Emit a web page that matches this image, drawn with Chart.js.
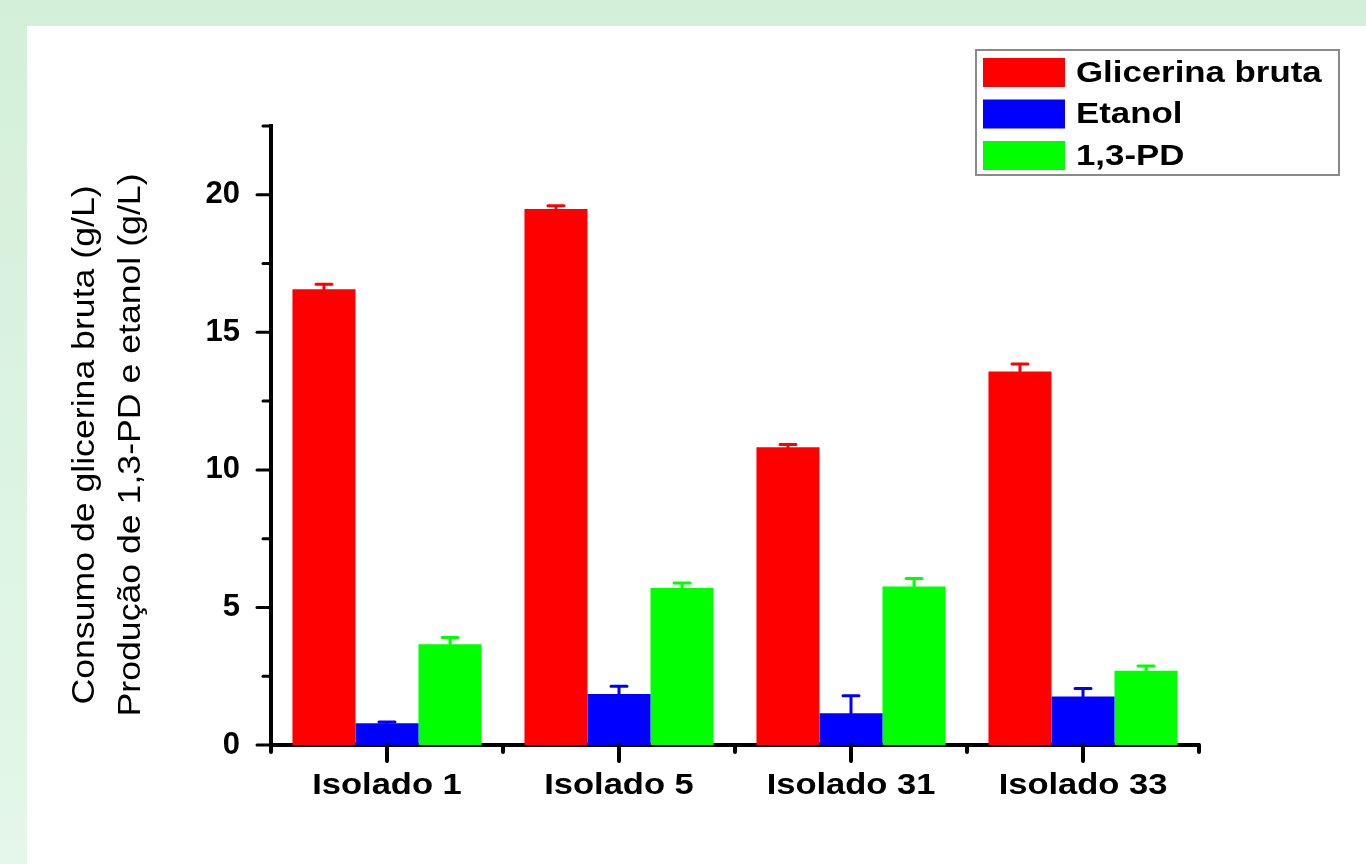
<!DOCTYPE html>
<html lang="pt">
<head>
<meta charset="utf-8">
<title>Consumo de glicerina bruta e produção de 1,3-PD e etanol</title>
<script src="https://cdn.jsdelivr.net/npm/chart.js@4.4.1/dist/chart.umd.min.js"></script>
<style>
  html, body { margin: 0; padding: 0; }
  body {
    width: 1366px; height: 864px; overflow: hidden;
    background: linear-gradient(to bottom, #d3efd9, #e4f7ea);
    position: relative;
  }
  #panel {
    position: absolute; left: 27px; top: 26px; width: 1339px; height: 838px;
    background: #ffffff;
  }
  canvas { display: block; }
</style>
</head>
<body>
<div id="panel"><canvas id="grafico" width="1339" height="838"></canvas></div>
<script>
// Isolados avaliados
const categories = ['Isolado 1', 'Isolado 5', 'Isolado 31', 'Isolado 33'];

// Consumo de glicerina bruta (g/L) e desvio
const glicerina = [16.57, 19.48, 10.82, 13.58];
const glicerinaErr = [0.18, 0.12, 0.10, 0.27];

// Produção de etanol (g/L) e desvio
const etanol = [0.79, 1.85, 1.15, 1.76];
const etanolErr = [0.05, 0.29, 0.64, 0.29];

// Produção de 1,3-propanodiol (g/L) e desvio
const pd = [3.66, 5.71, 5.76, 2.70];
const pdErr = [0.25, 0.18, 0.29, 0.17];

// Eixo Y: 0 a 22,5 com marcas a cada 2,5 e rótulos a cada 5
const yMax = 22.5;
const yStep = 2.5;
const yLabelEvery = 5;

const seriesNames = ['Glicerina bruta', 'Etanol', '1,3-PD'];
const yTitleLines = ['Consumo de glicerina bruta (g/L)', 'Produção de 1,3-PD e etanol (g/L)'];

const FONT = '"Liberation Sans", Arial, Helvetica, sans-serif';
Chart.defaults.font.family = FONT;
Chart.defaults.color = '#000';

// texto com largura ampliada (fonte expandida horizontalmente)
function wideText(ctx, text, x, y, sx, align) {
  ctx.save();
  ctx.translate(x, y);
  ctx.scale(sx, 1);
  ctx.textAlign = align;
  ctx.fillText(text, 0, 0);
  ctx.restore();
}

const isMajor = v => Math.abs(v / yLabelEvery - Math.round(v / yLabelEvery)) < 1e-6;

// Barras de erro (somente para cima), marcas dos eixos, rótulos, título do eixo Y e legenda
const extras = {
  id: 'extras',
  afterDatasetsDraw(chart) {
    const ctx = chart.ctx;
    const y = chart.scales.y;
    chart.data.datasets.forEach((ds, di) => {
      const meta = chart.getDatasetMeta(di);
      meta.data.forEach((bar, i) => {
        const top = y.getPixelForValue(ds.data[i]);
        const end = y.getPixelForValue(ds.data[i] + ds.errors[i]);
        ctx.save();
        ctx.strokeStyle = ds.backgroundColor;
        ctx.lineWidth = 3;
        ctx.lineCap = 'round';
        ctx.beginPath();
        ctx.moveTo(bar.x, top);
        ctx.lineTo(bar.x, end);
        ctx.moveTo(bar.x - 8, end);
        ctx.lineTo(bar.x + 8, end);
        ctx.stroke();
        ctx.restore();
      });
    });
  },
  afterDraw(chart) {
    const ctx = chart.ctx;
    const xs = chart.scales.x;
    const ys = chart.scales.y;
    const area = chart.chartArea;
    ctx.save();
    ctx.strokeStyle = '#000';
    ctx.lineCap = 'round';

    // marcas do eixo Y
    ctx.lineWidth = 3;
    for (let v = 0; v <= yMax + 1e-9; v += yStep) {
      const py = ys.getPixelForValue(v);
      ctx.beginPath();
      ctx.moveTo(area.left, py);
      ctx.lineTo(area.left - (isMajor(v) ? 14 : 8), py);
      ctx.stroke();
    }

    // marcas do eixo X
    ctx.lineWidth = 4;
    const by = area.bottom;
    for (let i = 0; i < categories.length; i++) {
      const px = xs.getPixelForValue(i);
      ctx.beginPath();
      ctx.moveTo(px, by);
      ctx.lineTo(px, by + 16);
      ctx.stroke();
    }
    for (let i = 0; i <= categories.length; i++) {
      const px = xs.getPixelForValue(i - 0.5);
      ctx.beginPath();
      ctx.moveTo(px, by);
      ctx.lineTo(px, by + 7);
      ctx.stroke();
    }
    ctx.restore();

    // rótulos das categorias
    ctx.save();
    ctx.fillStyle = '#000';
    ctx.font = 'bold 30px ' + FONT;
    ctx.textBaseline = 'alphabetic';
    xs.ticks.forEach((t, i) => {
      wideText(ctx, xs.getLabelForValue(t.value), xs.getPixelForTick(i), by + 49, 1.15, 'center');
    });
    ctx.restore();

    // título do eixo Y em duas linhas
    ctx.save();
    ctx.fillStyle = '#000';
    ctx.font = '31px ' + FONT;
    ctx.textBaseline = 'middle';
    const titleX = [58, 104];
    const titleY = 419;
    yTitleLines.forEach((t, k) => {
      ctx.save();
      ctx.translate(titleX[k], titleY);
      ctx.rotate(-Math.PI / 2);
      wideText(ctx, t, 0, 0, 1.15, 'center');
      ctx.restore();
    });
    ctx.restore();

    // legenda
    ctx.save();
    const box = { x: 949, y: 24, w: 363, h: 125 };
    ctx.fillStyle = '#fff';
    ctx.fillRect(box.x, box.y, box.w, box.h);
    ctx.strokeStyle = '#8a8a8a';
    ctx.lineWidth = 2;
    ctx.strokeRect(box.x, box.y, box.w, box.h);
    const rowCenters = [46.5, 88, 129.5];
    ctx.font = 'bold 29px ' + FONT;
    ctx.textBaseline = 'middle';
    chart.data.datasets.forEach((ds, k) => {
      const cy = rowCenters[k];
      ctx.fillStyle = ds.backgroundColor;
      ctx.fillRect(956, cy - 14.5, 82, 29);
      ctx.fillStyle = '#000';
      wideText(ctx, ds.label, 1049, cy + 1, 1.2, 'left');
    });
    ctx.restore();
  }
};

new Chart(document.getElementById('grafico'), {
  type: 'bar',
  data: {
    labels: categories,
    datasets: [
      { label: seriesNames[0], data: glicerina, errors: glicerinaErr, backgroundColor: '#ff0000' },
      { label: seriesNames[1], data: etanol, errors: etanolErr, backgroundColor: '#0000ff' },
      { label: seriesNames[2], data: pd, errors: pdErr, backgroundColor: '#00ff00' }
    ]
  },
  options: {
    responsive: false,
    animation: false,
    devicePixelRatio: 1,
    categoryPercentage: 0.815,
    barPercentage: 1.0,
    layout: { padding: { left: 0, top: 100, right: 167, bottom: 59 } },
    plugins: {
      legend: { display: false },
      tooltip: { enabled: false }
    },
    scales: {
      x: {
        grid: { display: false },
        border: { display: true, color: '#000', width: 4 },
        ticks: { display: false, autoSkip: false },
        afterFit(s) { s.height = 60; }
      },
      y: {
        min: 0,
        max: yMax,
        grid: { display: false },
        border: { display: true, color: '#000', width: 4 },
        ticks: {
          stepSize: yStep,
          autoSkip: false,
          font: { size: 31, weight: 'bold' },
          color: '#000',
          padding: 23,
          callback(v) {
            return isMajor(v) ? String(v) : '';
          }
        },
        afterFit(s) { s.width = 244; }
      }
    }
  },
  plugins: [extras]
});
</script>
</body>
</html>
